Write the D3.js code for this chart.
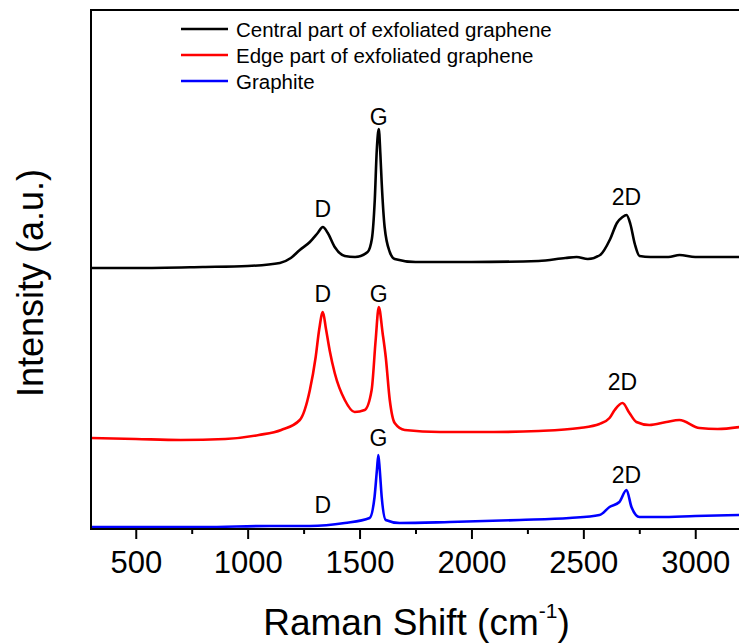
<!DOCTYPE html>
<html>
<head>
<meta charset="utf-8">
<script src="https://cdnjs.cloudflare.com/ajax/libs/d3/7.8.5/d3.min.js"></script>
<style>
  body { margin: 0; background: #fff; }
  svg { display: block; font-family: "Liberation Sans", Arial, sans-serif; }
</style>
</head>
<body>
<svg id="container"></svg>
<script>
// Raman spectra, three stacked traces (offset already included)

var seriesNames = ["Central part of exfoliated graphene", "Edge part of exfoliated graphene", "Graphite"]
  , seriesColors = ["#000000", "#ff0000", "#0000ff"]
  ;

// [Raman shift (cm-1), intensity (a.u.)]
var central = [
  [300, 261], [500, 261], [800, 262], [1000, 263], [1144, 266], [1193, 271], [1233, 279], [1278, 287],
  [1313, 296], [1336, 302], [1358, 296], [1389, 282], [1434, 273], [1480, 272], [1536, 277],
  [1555, 290], [1568, 329], [1577, 379], [1586, 400], [1593, 375], [1599, 346], [1612, 302],
  [1635, 277], [1657, 270], [1750, 267], [2000, 267], [2300, 268], [2420, 271], [2470, 272],
  [2520, 270], [2575, 274], [2620, 290], [2650, 306], [2675, 312], [2693, 314], [2710, 305],
  [2730, 285], [2751, 273], [2800, 272], [2880, 272], [2930, 274], [3000, 272], [3100, 272],
  [3200, 272]
];

var edge = [
  [300, 91], [500, 90], [700, 89], [900, 90], [1050, 94], [1150, 99], [1233, 109], [1278, 139],
  [1304, 172], [1320, 200], [1336, 217], [1350, 200], [1367, 178], [1389, 156], [1434, 129],
  [1478, 117], [1523, 119], [1554, 139], [1572, 189], [1586, 222], [1603, 196], [1617, 172],
  [1635, 129], [1657, 106], [1702, 99], [1860, 97], [2100, 97], [2300, 98], [2483, 101],
  [2572, 105], [2617, 111], [2640, 119], [2675, 126], [2706, 116], [2737, 107], [2795, 104],
  [2871, 107], [2929, 109], [3019, 101], [3100, 100], [3200, 102]
];

var graphite = [
  [300, 2], [500, 2], [800, 2], [1100, 3], [1278, 3], [1434, 6], [1545, 11], [1567, 32],
  [1578, 60], [1584, 74], [1590, 60], [1599, 32], [1617, 9], [1679, 6], [1903, 7], [2215, 9],
  [2438, 11], [2572, 14], [2617, 22], [2661, 27], [2693, 39], [2715, 22], [2751, 12],
  [2840, 12], [3000, 13], [3200, 14]
];

// Peak labels: [text, shift, intensity at baseline of label]
var peakLabels = [
  ["D", 1336, 312], ["G", 1586, 404], ["2D", 2693, 324],
  ["D", 1336, 227], ["G", 1586, 227], ["2D", 2675, 139],
  ["D", 1336, 16], ["G", 1584, 83], ["2D", 2693, 46]
];

var xMajorTicks = [500, 1000, 1500, 2000, 2500, 3000]
  , xMinorTicks = [750, 1250, 1750, 2250, 2750]
  ;

// note: "top" is taken by window.top, so plot edges get their own names
var width = 739, height = 644
  , plotLeft = 91, plotRight = 740, plotTop = 10, plotBottom = 529
  ;

var svg = d3.select("#container")
            .attr("width", width)
            .attr("height", height)
            ;

var x = d3.scaleLinear().domain([300, 3200]).range([plotLeft, plotRight])
  , y = d3.scaleLinear().domain([0, 519]).range([plotBottom, plotTop])
  ;

var line = d3.line()
             .x(function (d) { return x(d[0]); })
             .y(function (d) { return y(d[1]); })
             .curve(d3.curveMonotoneX)
             ;

// Traces
[central, edge, graphite].forEach(function (s, i) {
  svg.append("path")
     .datum(s)
     .attr("d", line)
     .attr("fill", "none")
     .attr("stroke", seriesColors[i])
     .attr("stroke-width", 2.6)
     .attr("stroke-linejoin", "round")
     ;
});

// Frame
svg.append("rect")
   .attr("x", plotLeft)
   .attr("y", plotTop)
   .attr("width", plotRight - plotLeft)
   .attr("height", plotBottom - plotTop)
   .attr("fill", "none")
   .attr("stroke", "#000")
   .attr("stroke-width", 2)
   ;

// Bottom axis
var xAxis = svg.append("g")
               .attr("transform", "translate(0," + plotBottom + ")")
               .call(d3.axisBottom(x).tickValues(xMajorTicks).tickFormat(d3.format("d"))
                       .tickSize(10).tickPadding(5).tickSizeOuter(0))
               ;
xAxis.select(".domain").remove();
xAxis.selectAll(".tick line").attr("stroke-width", 2);
xAxis.selectAll(".tick text")
     .attr("font-size", 31)
     .attr("font-family", "Liberation Sans, Arial, sans-serif")
     .attr("fill", "#000")
     .attr("dy", null)
     .attr("y", 44)
     ;

var xMinor = svg.append("g")
                .attr("transform", "translate(0," + plotBottom + ")")
                .call(d3.axisBottom(x).tickValues(xMinorTicks).tickSize(5).tickFormat("").tickSizeOuter(0))
                ;
xMinor.select(".domain").remove();
xMinor.selectAll(".tick line").attr("stroke-width", 2);

// Peak labels
svg.append("g")
   .selectAll("text")
   .data(peakLabels)
   .join("text")
   .attr("x", function (d) { return x(d[1]); })
   .attr("y", function (d) { return y(d[2]); })
   .attr("text-anchor", "middle")
   .attr("font-size", 23)
   .text(function (d) { return d[0]; })
   ;

// Legend
var legend = svg.append("g");
seriesNames.forEach(function (name, i) {
  var ly = 29 + i * 26;
  legend.append("line")
        .attr("x1", 181).attr("x2", 228)
        .attr("y1", ly).attr("y2", ly)
        .attr("stroke", seriesColors[i])
        .attr("stroke-width", 2.6)
        ;
  legend.append("text")
        .attr("x", 236)
        .attr("y", ly + 7.5)
        .attr("font-size", 20.5)
        .text(name)
        ;
});

// Axis titles
var xTitle = svg.append("text")
                .attr("x", (plotLeft + plotRight) / 2 + 1)
                .attr("y", 635)
                .attr("text-anchor", "middle")
                .attr("font-size", 37)
                ;
xTitle.append("tspan").text("Raman Shift (cm");
xTitle.append("tspan").attr("font-size", 21).attr("dy", -17).text("-1");
xTitle.append("tspan").attr("dy", 17).text(")");

svg.append("text")
   .attr("transform", "translate(43,283) rotate(-90)")
   .attr("text-anchor", "middle")
   .attr("font-size", 36)
   .text("Intensity (a.u.)")
   ;
</script>
</body>
</html>
